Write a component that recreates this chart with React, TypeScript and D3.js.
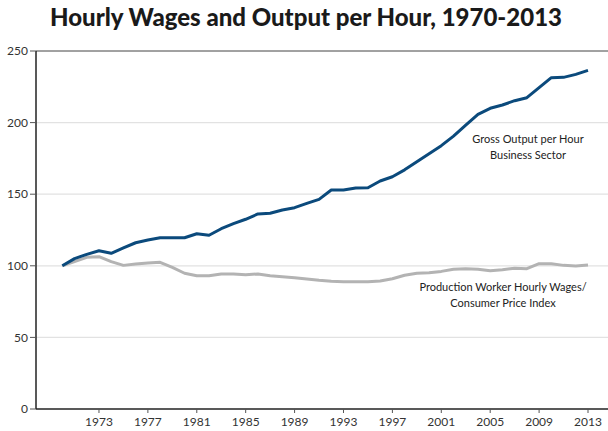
import React from "react";
import * as d3 from "d3";

// years 1970..2013
const years = d3.range(1970, 2014);

// Gross output per hour, business sector (1970 = 100)
const outputPerHour = [
  100, 105, 108, 110.5, 108.7, 112.5, 116.1, 118, 119.6, 119.6,
  119.6, 122.4, 121.3, 125.9, 129.4, 132.5, 136.2, 136.7, 139, 140.6,
  143.6, 146.4, 152.9, 152.9, 154.3, 154.5, 159.2, 162.2, 167, 172.7,
  178.3, 183.9, 190.6, 198.3, 205.8, 210, 212.3, 215.3, 217.4, 224.4,
  231.4, 231.6, 233.7, 236.5,
];

// Production worker hourly wages / CPI (1970 = 100)
const realWages = [
  100, 102.9, 105.9, 106.4, 102.9, 100.3, 101.3, 102, 102.4, 98.9,
  94.8, 93.1, 93.1, 94.3, 94.3, 93.8, 94.3, 93.1, 92.4, 91.7,
  90.8, 89.9, 89.2, 88.9, 88.9, 88.9, 89.4, 91, 93.4, 94.8,
  95.2, 96.1, 97.6, 98, 97.6, 96.6, 97.3, 98.3, 98, 101.5,
  101.5, 100.3, 99.9, 100.6,
];

const yTicks = [0, 50, 100, 150, 200, 250];
const xTicks = [1973, 1977, 1981, 1985, 1989, 1993, 1997, 2001, 2005, 2009, 2013];

const outputLabel = ["Gross Output per Hour", "Business Sector"];
const wagesLabel = ["Production Worker Hourly Wages/", "Consumer Price Index"];

const W = 608;
const H = 431;
const margin = { top: 51, right: 0, bottom: 22, left: 36 };

export default function App() {
  const x = d3.scaleLinear().domain([1970, 2013]).range([62.3, 588]);
  const y = d3
    .scaleLinear()
    .domain([0, 250])
    .range([H - margin.bottom, margin.top]);

  const line = d3
    .line<number>()
    .x((_, i) => x(years[i]))
    .y((d) => y(d));

  const font = "Lato, 'Open Sans', sans-serif";

  return (
    <svg
      width={W}
      height={H}
      style={{ position: "absolute", left: 0, top: 0, background: "#fff" }}
    >
      <text
        x={306}
        y={26}
        textAnchor="middle"
        fontFamily={font}
        fontWeight={900}
        fontSize={24}
        fill="#1a1a1a"
      >
        Hourly Wages and Output per Hour, 1970-2013
      </text>

      {/* gridlines */}
      {yTicks
        .filter((t) => t > 0 && t < 250)
        .map((t) => (
          <line
            key={t}
            x1={margin.left}
            x2={W}
            y1={y(t)}
            y2={y(t)}
            stroke="#e2e2e2"
            strokeWidth={1.2}
          />
        ))}
      <line x1={margin.left} x2={W} y1={y(250)} y2={y(250)} stroke="#444" strokeWidth={1} />

      {/* y axis */}
      <line
        x1={margin.left}
        x2={margin.left}
        y1={y(250)}
        y2={y(0)}
        stroke="#222"
        strokeWidth={1.5}
      />
      {yTicks.map((t) => (
        <g key={t}>
          <line x1={margin.left - 6} x2={margin.left} y1={y(t)} y2={y(t)} stroke="#555" />
          <text
            x={margin.left - 8}
            y={y(t)}
            dy="0.35em"
            textAnchor="end"
            fontFamily={font}
            fontSize={12}
            fill="#333"
          >
            {t}
          </text>
        </g>
      ))}

      {/* x axis */}
      <line x1={margin.left} x2={W} y1={y(0)} y2={y(0)} stroke="#222" strokeWidth={1.5} />
      {xTicks.map((t) => (
        <g key={t}>
          <line x1={x(t)} x2={x(t)} y1={y(0)} y2={y(0) + 4} stroke="#555" />
          <text
            x={x(t)}
            y={y(0) + 17}
            textAnchor="middle"
            fontFamily={font}
            fontSize={12}
            fill="#333"
          >
            {t}
          </text>
        </g>
      ))}

      {/* series */}
      <path d={line(realWages) ?? ""} fill="none" stroke="#b3b3b3" strokeWidth={3} strokeLinejoin="round" />
      <path d={line(outputPerHour) ?? ""} fill="none" stroke="#0b4a7c" strokeWidth={3} strokeLinejoin="round" />

      {/* labels */}
      {outputLabel.map((s, i) => (
        <text
          key={s}
          x={528}
          y={139 + i * 16.5}
          dy="0.35em"
          textAnchor="middle"
          fontFamily={font}
          fontSize={11}
          fill="#222"
        >
          {s}
        </text>
      ))}
      {wagesLabel.map((s, i) => (
        <text
          key={s}
          x={503}
          y={287 + i * 16}
          dy="0.35em"
          textAnchor="middle"
          fontFamily={font}
          fontSize={11}
          fill="#222"
        >
          {s}
        </text>
      ))}
    </svg>
  );
}
